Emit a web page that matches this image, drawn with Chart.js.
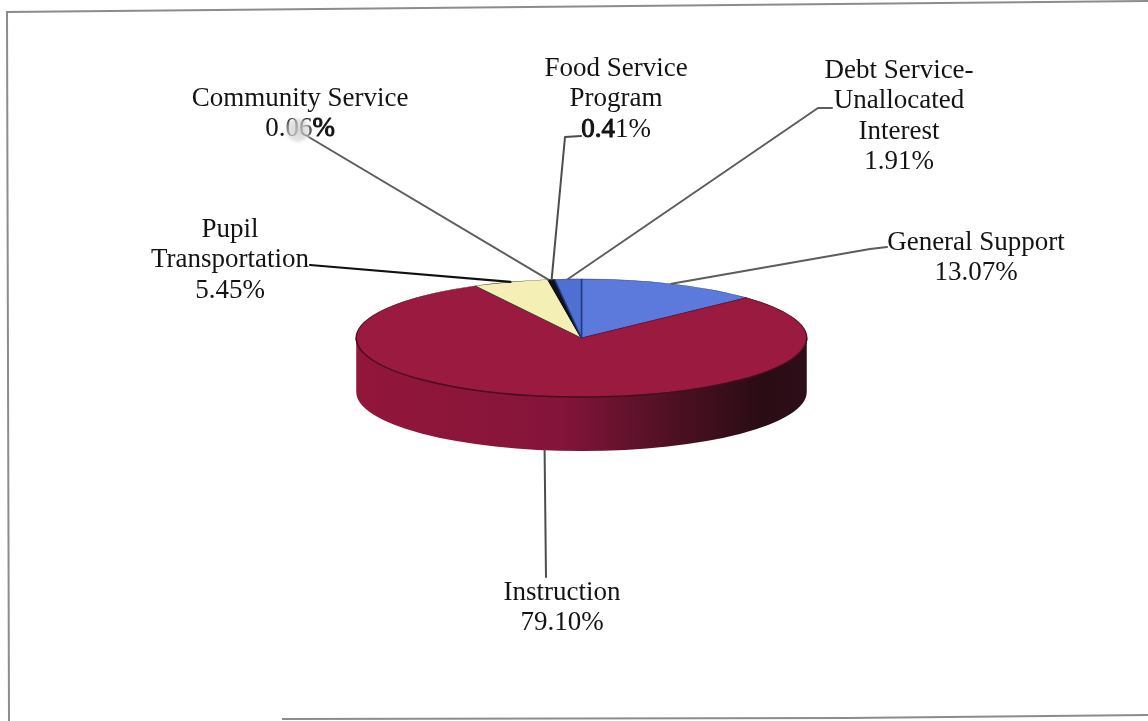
<!DOCTYPE html>
<html>
<head>
<meta charset="utf-8">
<title>Expenditures</title>
<script src="https://cdn.jsdelivr.net/npm/chart.js@4/dist/chart.umd.min.js"></script>
<style>
  html, body { margin: 0; padding: 0; background: #fff; }
  canvas { display: block; }
</style>
</head>
<body>
<canvas id="budgetChart" width="1148" height="721"></canvas>
<script>
// clockwise from twelve o'clock
var categories = [
  "General Support",
  "Instruction",
  "Pupil Transportation",
  "Community Service",
  "Food Service Program",
  "Debt Service-Unallocated Interest"
];
var percents = [13.07, 79.10, 5.45, 0.06, 0.41, 1.91];
var labelLines = [
  ["General Support"],
  ["Instruction"],
  ["Pupil", "Transportation"],
  ["Community Service"],
  ["Food Service", "Program"],
  ["Debt Service-", "Unallocated", "Interest"]
];
var sliceColors = ["#5b7adb", "#9b1a40", "#f4efb4", "#20242f", "#12141c", "#4f6fd2"];
var edgeColors = ["#2c3f86", "#5c0f28", "#2a2a20", "#101010", "#101010", "#24387f"];

var TILT = 59 / 225;  // top face height / width
var DEPTH = 54;       // wall height of the disc

// where each label block is centred, and where its leader stops
var labelBoxes = [
  { x: 976, y: 243, leader: [[870, 249], [887, 247]], color: "#5a5f58", width: 2 },
  { x: 562, y: 593, leader: [[546, 577]], color: "#4b4f4b", width: 2, wall: true },
  { x: 230, y: 230, leader: [[310, 265]], color: "#111", width: 2.2 },
  { x: 300, y: 99, leader: [[302, 133]], color: "#5a5f58", width: 2 },
  { x: 616, y: 69, leader: [[565, 137], [581, 136]], color: "#4b4f4b", width: 2 },
  { x: 899, y: 71, leader: [[818, 108], [832, 108]], color: "#5a5f58", width: 2 }
];
var LINE_HEIGHT = 30.3;
var labelFont = '27px "Liberation Serif", serif';

function rim(arc, angle, extraY) {
  return {
    x: arc.x + Math.cos(angle) * arc.outerRadius,
    y: arc.y + Math.sin(angle) * arc.outerRadius * TILT + (extraY || 0)
  };
}

// overdraws part of a string so those characters read heavier
function thicken(ctx, text, x, y, from, to) {
  var total = ctx.measureText(text).width;
  var left = x - total / 2 + ctx.measureText(text.slice(0, from)).width;
  var right = x - total / 2 + ctx.measureText(text.slice(0, to)).width;
  ctx.save();
  ctx.beginPath();
  ctx.rect(left, y - 20, right - left, 40);
  ctx.clip();
  ctx.lineWidth = 1;
  ctx.strokeText(text, x, y);
  ctx.restore();
}

var framePlugin = {
  id: "frame",
  beforeDraw: function (chart) {
    var ctx = chart.ctx;
    ctx.save();
    ctx.strokeStyle = "#8c8c8c";
    ctx.lineWidth = 2;
    ctx.beginPath();
    ctx.moveTo(9, 721);
    ctx.lineTo(7, 12);
    ctx.lineTo(320, 9);
    ctx.lineTo(1148, 1);
    ctx.moveTo(282, 719);
    ctx.lineTo(848, 718);
    ctx.lineTo(1148, 715);
    ctx.stroke();
    ctx.restore();
  }
};

// squashes the pie into a tilted disc and puts the wall under it
var discPlugin = {
  id: "disc",
  beforeDatasetDraw: function (chart) {
    var ctx = chart.ctx;
    var arcs = chart.getDatasetMeta(0).data;
    var first = arcs[0];
    var cx = first.x, cy = first.y, r = first.outerRadius;

    var wall = ctx.createLinearGradient(cx - r, 0, cx + r, 0);
    wall.addColorStop(0, "#93163b");
    wall.addColorStop(0.45, "#85143a");
    wall.addColorStop(0.72, "#4a1022");
    wall.addColorStop(0.9, "#2a0c15");
    wall.addColorStop(1, "#2e0e18");

    ctx.save();
    ctx.fillStyle = wall;
    arcs.forEach(function (arc) {
      var a0 = Math.max(arc.startAngle, 0);
      var a1 = Math.min(arc.endAngle, Math.PI);
      if (a1 <= a0) return;
      ctx.beginPath();
      ctx.ellipse(cx, cy, r, r * TILT, 0, a0, a1);
      ctx.ellipse(cx, cy + DEPTH, r, r * TILT, 0, a1, a0, true);
      ctx.closePath();
      ctx.fill();
    });
    ctx.restore();

    ctx.save();
    ctx.translate(cx, cy);
    ctx.scale(1, TILT);
    ctx.translate(-cx, -cy);
  },
  afterDatasetDraw: function (chart) {
    var ctx = chart.ctx;
    ctx.restore();
    var first = chart.getDatasetMeta(0).data[0];
    ctx.save();
    ctx.strokeStyle = "#4c0c20";
    ctx.lineWidth = 1.4;
    ctx.beginPath();
    ctx.ellipse(first.x, first.y, first.outerRadius, first.outerRadius * TILT, 0, 0, Math.PI);
    ctx.stroke();
    ctx.restore();
  }
};

var labelPlugin = {
  id: "sliceLabels",
  afterDatasetsDraw: function (chart) {
    var ctx = chart.ctx;
    var arcs = chart.getDatasetMeta(0).data;
    ctx.save();
    ctx.lineCap = "round";
    ctx.lineJoin = "round";

    // leaders run from the middle of each slice's rim out to its label
    arcs.forEach(function (arc, i) {
      var box = labelBoxes[i];
      var start = rim(arc, (arc.startAngle + arc.endAngle) / 2, box.wall ? DEPTH : 0);
      ctx.strokeStyle = box.color;
      ctx.lineWidth = box.width;
      ctx.beginPath();
      ctx.moveTo(start.x, start.y);
      box.leader.forEach(function (p) { ctx.lineTo(p[0], p[1]); });
      ctx.stroke();
    });

    ctx.font = labelFont;
    ctx.textAlign = "center";
    ctx.textBaseline = "middle";
    ctx.fillStyle = "#141414";
    ctx.strokeStyle = "#141414";
    arcs.forEach(function (arc, i) {
      var box = labelBoxes[i];
      var lines = labelLines[i];
      lines.forEach(function (line, n) {
        ctx.fillText(line, box.x, box.y + n * LINE_HEIGHT);
      });
      var valueY = box.y + lines.length * LINE_HEIGHT;
      var valueText = percents[i].toFixed(2) + "%";
      ctx.fillText(valueText, box.x, valueY);
      if (categories[i] === "Food Service Program") thicken(ctx, valueText, box.x, valueY, 0, 3);
      if (categories[i] === "Community Service") {
        thicken(ctx, valueText, box.x, valueY, 4, 5);
        // worn patch over the middle digits
        var smudge = ctx.createRadialGradient(box.x - 2, valueY + 1, 1, box.x - 2, valueY + 1, 15);
        smudge.addColorStop(0, "rgba(205,205,205,0.85)");
        smudge.addColorStop(0.65, "rgba(215,215,215,0.65)");
        smudge.addColorStop(1, "rgba(255,255,255,0)");
        ctx.fillStyle = smudge;
        ctx.fillRect(box.x - 17, valueY - 14, 30, 30);
        ctx.fillStyle = "#141414";
      }
    });
    ctx.restore();
  }
};

var budgetChart = new Chart("budgetChart", {
  type: "pie",
  data: {
    labels: categories,
    datasets: [{
      data: percents,
      backgroundColor: sliceColors,
      borderColor: edgeColors,
      borderWidth: 1.5
    }]
  },
  options: {
    responsive: false,
    animation: false,
    rotation: 0,
    layout: { padding: { left: 355, right: 340, top: 112, bottom: 157 } },
    plugins: {
      legend: { display: false },
      title: { display: false },
      tooltip: { enabled: false }
    }
  },
  plugins: [framePlugin, discPlugin, labelPlugin]
});
</script>
</body>
</html>
